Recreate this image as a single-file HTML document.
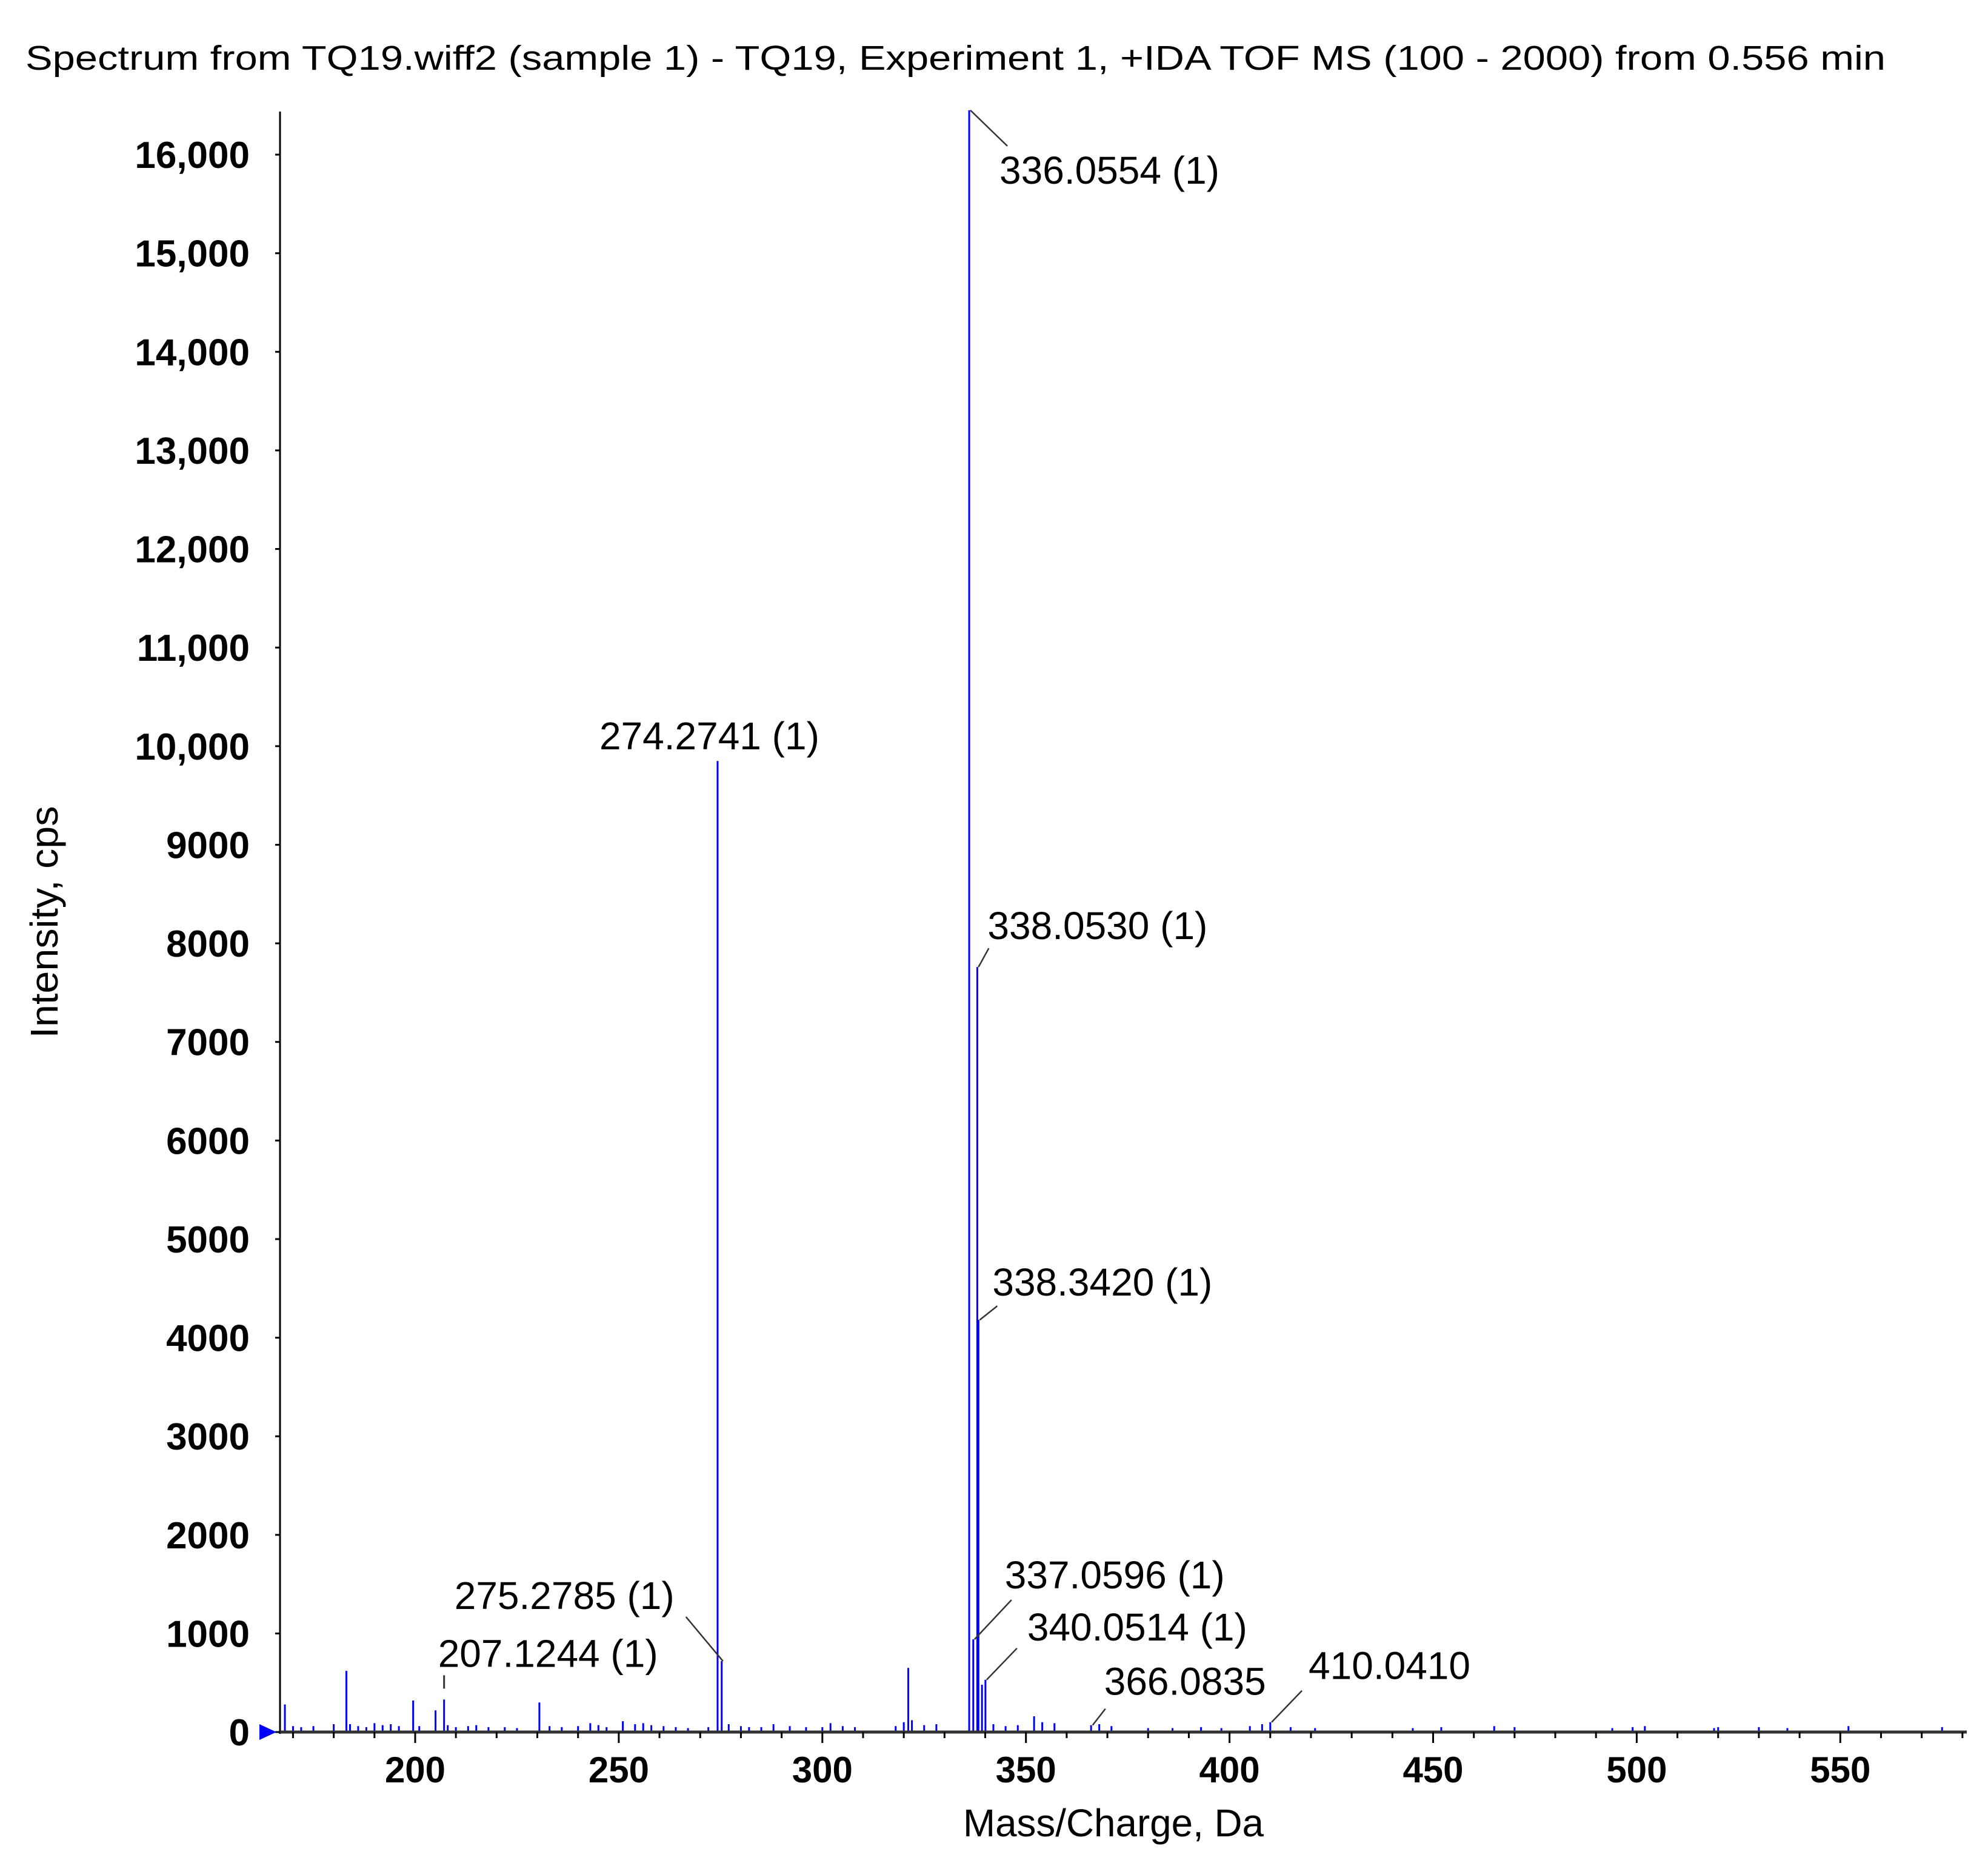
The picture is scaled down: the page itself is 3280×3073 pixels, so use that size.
<!DOCTYPE html>
<html><head><meta charset="utf-8"><style>
html,body{margin:0;padding:0;background:#fff;}
svg{display:block;font-family:"Liberation Sans",Arial,sans-serif;}
</style></head><body>
<svg id="chart" width="3280" height="3073" viewBox="0 0 3280 3073" xmlns="http://www.w3.org/2000/svg">
<text x="42" y="115" font-size="57" textLength="3069" lengthAdjust="spacingAndGlyphs">Spectrum from TQ19.wiff2 (sample 1) - TQ19, Experiment 1, +IDA TOF MS (100 - 2000) from 0.556 min</text>
<text transform="translate(95,1521) rotate(-90)" text-anchor="middle" font-size="64" textLength="383" lengthAdjust="spacingAndGlyphs">Intensity, cps</text>
<text x="1837" y="3029" text-anchor="middle" font-size="64" textLength="496" lengthAdjust="spacingAndGlyphs">Mass/Charge, Da</text>
<g id="peaks"></g>
<g id="axes"></g>
<g id="annots"></g>
</svg>
<script>
const peakMz = [168,170,172,175,180,183.1,184,186,188,190,192,194,196,199.5,201,205,207.1,208,210,213,215,218,222,225,230.5,233,236,240,243,245,247,251,254,256,258,261,264,267,272,274.27,275.28,277,280,282,285,288,292,296,300,302,305,308,318,320,321.1,322,325,328,336.06,337.06,338.05,338.34,339.2,340.05,342,345,348,352,354,357,366,368,371,380,386,393,398,405,408,410,415,421,445,452,465,470,494,499,502,519,520,530,537,552,575];
const peakInt = [280,60,50,60,80,620,80,60,50,90,70,80,60,320,60,220,330,70,50,60,70,50,50,40,300,60,50,60,90,70,50,110,80,90,70,60,50,40,50,9850,720,80,60,50,50,80,60,50,50,90,60,50,60,100,650,120,70,80,16450,940,7760,4180,480,530,80,60,70,160,100,90,70,80,60,40,40,50,40,60,80,100,50,40,40,50,60,50,40,50,60,40,50,50,40,60,50];
const yTicks = [0,1000,2000,3000,4000,5000,6000,7000,8000,9000,10000,11000,12000,13000,14000,15000,16000];
const yTickLabels = ["0","1000","2000","3000","4000","5000","6000","7000","8000","9000","10,000","11,000","12,000","13,000","14,000","15,000","16,000"];
const xTicks = [200,250,300,350,400,450,500,550];
const annotMz = [336.06,274.27,338.05,338.34,337.06,340.05,275.28,207.1,366.0835,410.041];
const annotInt = [16450,9850,7760,4180,940,530,720,330,70,100];
const annotText = ["336.0554 (1)","274.2741 (1)","338.0530 (1)","338.3420 (1)","337.0596 (1)","340.0514 (1)","275.2785 (1)","207.1244 (1)","366.0835","410.0410"];
// label offsets (px) from peak top, and leader end offsets
const labDx = [50,-195,17,23,52,69,-441,-10,21,63];
const labDy = [121,-19,-46,-40,-84,-65,-86,-54,-50,-71];
const leadDx = [63,0,19,31,63,52,-59,0,23,52];
const leadDy = [59,0,-31,-23,-65,-52,-73,-40,-27,-52];

const NS="http://www.w3.org/2000/svg";
const X0=462, X1=3245, Y0=2857, YT=184;
function xs(m){return 685+(m-200)*6.718;}
function ys(v){return Y0-v*0.16262;}
function mk(tag,attrs,parent){const e=document.createElementNS(NS,tag);for(const k in attrs)e.setAttribute(k,attrs[k]);parent.appendChild(e);return e;}
const gp=document.getElementById('peaks'),ga=document.getElementById('axes'),gn=document.getElementById('annots');
peakMz.forEach((m,i)=>{
  const l=mk('line',{x1:xs(m),x2:xs(m),y1:Y0,y2:ys(peakInt[i]),stroke:'#0000ff','stroke-width':3},gp);
  
  
});
let a=mk('line',{x1:X0,x2:X0,y1:YT,y2:Y0+3,stroke:'#000','stroke-width':3},ga);


a=mk('line',{x1:X0,x2:X1,y1:Y0,y2:Y0,stroke:'#333','stroke-width':5},ga);


yTicks.forEach((v,i)=>{
  mk('line',{x1:X0-8,x2:X0,y1:ys(v),y2:ys(v),stroke:'#000','stroke-width':3},ga);
  const t=mk('text',{x:412,y:ys(v)+22,'text-anchor':'end','font-size':62,'font-weight':'bold'},ga);
  t.textContent=yTickLabels[i];
  
  
});
for(let m=170;m<=580;m+=10){
  const major=xTicks.includes(m);
  mk('line',{x1:xs(m),x2:xs(m),y1:Y0,y2:Y0+(major?18:10),stroke:'#000','stroke-width':3},ga);
}
xTicks.forEach(m=>{
  const t=mk('text',{x:xs(m),y:2940,'text-anchor':'middle','font-size':60,'font-weight':'bold'},ga);
  t.textContent=String(m);
  
  
});
const arrow=mk('polygon',{points:`${X0-34},${Y0-13} ${X0-6},${Y0} ${X0-34},${Y0+13}`,fill:'#0000ff'},ga);


annotMz.forEach((m,i)=>{
  const px=xs(m),py=ys(annotInt[i]);
  if(i===7){
    mk('line',{x1:px,y1:py-18,x2:px,y2:py+leadDy[i],stroke:'#333','stroke-width':3},gn);
  } else if(leadDx[i]!==0||leadDy[i]!==0){
    mk('line',{x1:px+2,y1:py,x2:px+leadDx[i],y2:py+leadDy[i],stroke:'#333','stroke-width':2.5},gn);
  }
  const t=mk('text',{x:px+labDx[i],y:py+labDy[i],'text-anchor':'start','font-size':64},gn);
  t.textContent=annotText[i];
  
  
});
</script>
</body></html>
